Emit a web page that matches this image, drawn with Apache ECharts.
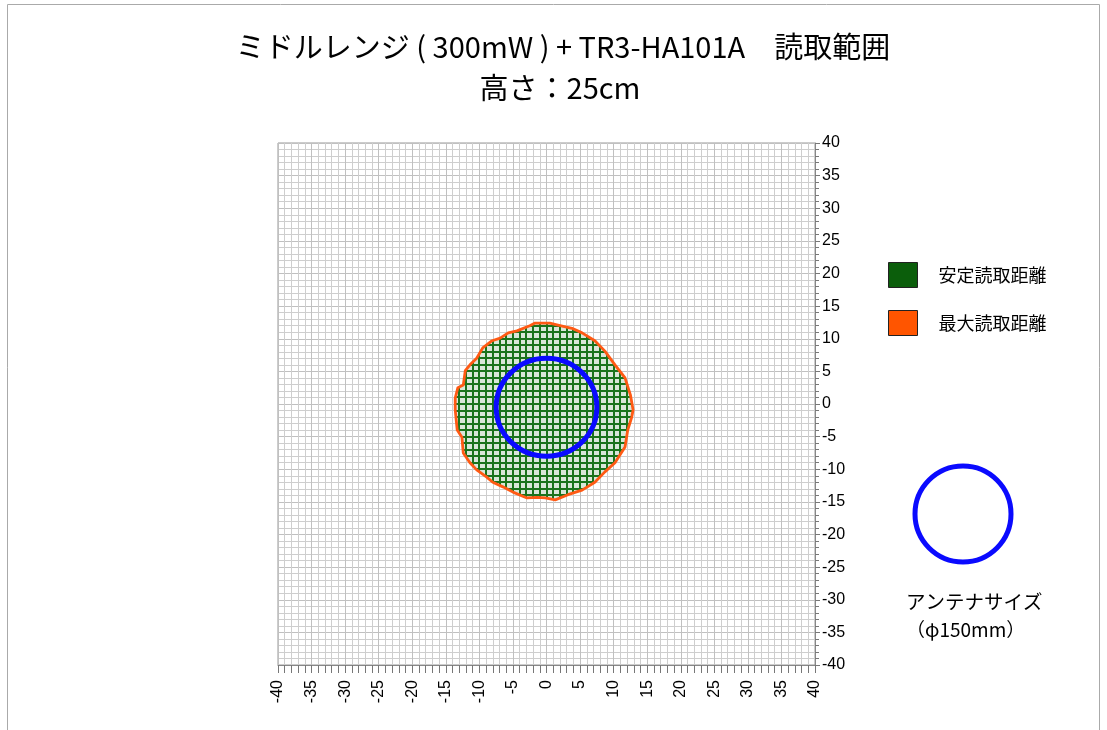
<!DOCTYPE html>
<html><head><meta charset="utf-8">
<script src="https://cdn.jsdelivr.net/npm/echarts@6/dist/echarts.min.js"></script>
<style>html,body{margin:0;padding:0;background:#fff}#c{width:1107px;height:730px}</style>
</head><body><div id="c"></div>
<script>
// ---- data ----
const axisMin = -40, axisMax = 40, axisStep = 5;
// boundary of the reading area (cm), clockwise from top
const rangeX = [0.5, 1.7, 3.8, 5.3, 7.2, 8.7, 10.2, 11.7, 12.5, 12.9, 12.7, 12.1, 11.7, 10.2, 8.7, 7.2, 5.3, 3.2, 1.3, -0.2, -1.4, -2.9, -5.0, -6.5, -8.0, -8.9, -10.4, -11.4, -12.4, -12.6, -13.3, -13.6, -13.6, -13.2, -12.4, -12.1, -11.4, -10.4, -9.5, -8.1, -6.9, -5.7, -4.4, -2.5, -1.7];
const rangeY = [12.4, 12.1, 11.6, 10.9, 9.7, 8.1, 6.0, 4.0, 1.4, -0.9, -2.0, -4.0, -6.6, -9.0, -10.4, -12.0, -13.2, -13.9, -14.7, -14.4, -14.3, -14.4, -13.5, -12.7, -12.0, -11.2, -10.1, -9.0, -7.5, -5.1, -4.0, -0.9, 0.9, 2.5, 2.9, 5.1, 6.0, 7.0, 8.6, 9.7, 10.1, 10.9, 11.2, 12.0, 12.4];
const antenna = [0, -0.5, 7.5]; // centre x, centre y, radius (cm)
const titleLines = ['ミドルレンジ ( 300mW ) + TR3-HA101A　読取範囲', '高さ：25cm'];
const legendNames = ['安定読取距離', '最大読取距離'];
const antennaLabel = ['アンテナサイズ', '（φ150mm）'];

// ---- chart ----
const GREEN = '#0b5e0b', ORANGE = '#ff5a14', BLUE = '#0a0aff';
function polyPts(api) { return rangeX.map((x, i) => api.coord([x, rangeY[i]])); }

const chart = echarts.init(document.getElementById('c'), null, { renderer: 'canvas' });
const option = {
  animation: false,
  backgroundColor: '#fff',
  grid: { left: 278, right: 292, top: 143, bottom: 65, show: true, borderColor: '#999', borderWidth: 1, backgroundColor: 'transparent' },
  xAxis: {
    type: 'value', min: axisMin, max: axisMax, interval: axisStep, position: 'bottom',
    axisLine: { show: true, onZero: false, lineStyle: { color: '#888' } },
    axisTick: { show: true, length: 8, lineStyle: { color: '#777' } },
    minorTick: { show: true, splitNumber: 5, length: 8, lineStyle: { color: '#777' } },
    axisLabel: { rotate: 90, margin: 15, fontSize: 16, fontFamily: 'Liberation Sans', color: '#000' },
    splitLine: { show: true, lineStyle: { color: '#c0c0c0' } },
    minorSplitLine: { show: true, lineStyle: { color: '#cecece' } }
  },
  yAxis: {
    type: 'value', min: axisMin, max: axisMax, interval: axisStep, position: 'right',
    axisLine: { show: true, onZero: false, lineStyle: { color: '#888' } },
    axisTick: { show: true, length: 5, lineStyle: { color: '#777' } },
    minorTick: { show: true, splitNumber: 5, length: 4, lineStyle: { color: '#777' } },
    axisLabel: { margin: 7, fontSize: 16, fontFamily: 'Liberation Sans', color: '#000' },
    splitLine: { show: true, lineStyle: { color: '#c0c0c0' } },
    minorSplitLine: { show: true, lineStyle: { color: '#cecece' } }
  },
  legend: {
    orient: 'vertical', left: 888, top: 262, itemWidth: 29, itemHeight: 25, itemGap: 22,
    selectedMode: false, icon: 'rect', padding: 0,
    data: [
      { name: legendNames[0], itemStyle: { color: GREEN, borderColor: '#222', borderWidth: 1 } },
      { name: legendNames[1], itemStyle: { color: '#ff5500', borderColor: '#222', borderWidth: 1 } }
    ],
    textStyle: { fontSize: 18, fontFamily: 'Noto Sans CJK JP', color: '#000', padding: [0, 0, 0, 16] }
  },
  graphic: [
    { type: 'rect', silent: true, shape: { x: 7.5, y: 4.5, width: 1092, height: 800 }, style: { fill: 'none', stroke: '#aaa', lineWidth: 1 } },
    { type: 'text', x: 563, y: 47, style: { text: titleLines[0], align: 'center', verticalAlign: 'middle', font: '29px "Noto Sans CJK JP"', fill: '#000' } },
    { type: 'text', x: 560, y: 88, style: { text: titleLines[1], align: 'center', verticalAlign: 'middle', font: '29px "Noto Sans CJK JP"', fill: '#000' } },
    { type: 'circle', shape: { cx: 963, cy: 514, r: 48 }, style: { fill: 'none', stroke: BLUE, lineWidth: 5 } },
    { type: 'text', x: 906, y: 602, style: { text: antennaLabel[0], align: 'left', verticalAlign: 'middle', font: '19.5px "Noto Sans CJK JP"', fill: '#000' } },
    { type: 'text', x: 906, y: 630, style: { text: antennaLabel[1], align: 'left', verticalAlign: 'middle', font: '19px "Noto Sans CJK JP"', fill: '#000' } }
  ],
  series: [
    {
      type: 'custom', name: legendNames[0], coordinateSystem: 'cartesian2d', data: [[0, 0]],
      itemStyle: { color: GREEN }, z: 3, silent: true,
      renderItem: function (params, api) {
        const pts = polyPts(api);
        const minX = Math.floor(Math.min(...rangeX)) - 1, maxX = Math.ceil(Math.max(...rangeX)) + 1;
        const minY = Math.floor(Math.min(...rangeY)) - 1, maxY = Math.ceil(Math.max(...rangeY)) + 1;
        const children = [{ type: 'polygon', shape: { points: pts }, style: { fill: '#d9e7d9' } }];
        for (let v = minX; v <= maxX; v++) {
          const a = api.coord([v, minY]), b = api.coord([v, maxY]);
          const px = Math.round(a[0]);
          children.push({ type: 'line', shape: { x1: px, y1: a[1], x2: px, y2: b[1] }, style: { stroke: '#1a731c', lineWidth: 2 } });
        }
        for (let v = minY; v <= maxY; v++) {
          const a = api.coord([minX, v]), b = api.coord([maxX, v]);
          const py = Math.round(a[1]);
          children.push({ type: 'line', shape: { x1: a[0], y1: py, x2: b[0], y2: py }, style: { stroke: '#1a731c', lineWidth: 2 } });
        }
        return { type: 'group', clipPath: { type: 'polygon', shape: { points: pts } }, children: children };
      }
    },
    {
      type: 'custom', name: legendNames[1], coordinateSystem: 'cartesian2d', data: [[0, 0]],
      itemStyle: { color: ORANGE }, z: 4, silent: true,
      renderItem: function (params, api) {
        return { type: 'polygon', shape: { points: polyPts(api) }, style: { fill: 'none', stroke: ORANGE, lineWidth: 2.8, lineJoin: 'round' } };
      }
    },
    {
      type: 'custom', name: 'antenna', coordinateSystem: 'cartesian2d', data: [antenna],
      z: 5, silent: true,
      renderItem: function (params, api) {
        const c = api.coord([api.value(0), api.value(1)]);
        const s = api.size([api.value(2), api.value(2)]);
        return { type: 'ellipse', shape: { cx: c[0], cy: c[1], rx: s[0], ry: s[1] }, style: { fill: 'none', stroke: BLUE, lineWidth: 5 } };
      }
    }
  ]
};
chart.setOption(option);
</script>
</body></html>
